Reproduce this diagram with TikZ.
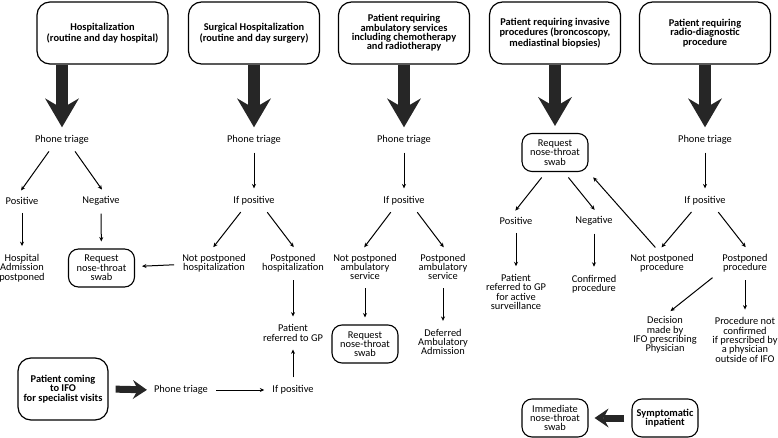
\documentclass[tikz,border=0pt]{standalone}
\usepackage{fontspec}
\setmainfont{Carlito}
\usepackage{xcolor}
\definecolor{arrowgrey}{RGB}{38, 38, 38}
\usepackage{tikz}
\usetikzlibrary{arrows.meta, positioning, calc}

\begin{document}
\begin{tikzpicture}[x=1pt, y=-1pt, >={Stealth[length=4.4pt, width=4pt]},
    txt/.style={align=center, inner sep=1pt, font=\fontsize{10.4}{9.3}\selectfont},
    topbox/.style={txt, draw, line width=1.2pt, rounded corners=13pt,
        font=\bfseries\fontsize{10.4}{9.3}\selectfont, minimum width=131pt, minimum height=62pt},
    swabbox/.style={txt, draw, line width=1.1pt, rounded corners=10pt, minimum width=66pt, minimum height=38pt},
    link/.style={->, line width=1pt, shorten <=7pt, shorten >=7pt},
    bigarrow/.style={arrowgrey, line width=12pt, shorten >=7pt,
        -{Stealth[length=29pt, width=34pt, inset=10pt, line width=0pt]}},
    midarrow/.style={arrowgrey, line width=7pt, shorten <=7pt, shorten >=6pt,
        -{Stealth[length=14pt, width=19pt, inset=5pt, line width=0pt]}}]
    \useasboundingbox (0,0) rectangle (778,438);

    % top boxes
    \node[topbox] (hosp) at (102.5,33) {Hospitalization\\(routine and day hospital)};
    \node[topbox] (surg) at (254,33) {Surgical Hospitalization\\(routine and day surgery)};
    \node[topbox] (amb) at (404,33) {Patient requiring\\ambulatory services\\including chemotherapy\\and radiotherapy};
    \node[topbox] (inv) at (555,33) {Patient requiring invasive\\procedures (broncoscopy,\\mediastinal biopsies)};
    \node[topbox] (rad) at (705,33) {Patient requiring\\radio-diagnostic\\procedure};

    % column 1
    \node[txt] (trig1) at (62,140) {Phone triage};
    \node[txt] (pos1) at (22,201) {Positive};
    \node[txt] (neg1) at (101,201) {Negative};
    \node[txt] (adm1) at (22,268) {Hospital\\Admission\\postponed};
    \node[swabbox] (swab1) at (101.5,268) {Request\\nose-throat\\swab};

    % column 2
    \node[txt] (trig2) at (254,140) {Phone triage};
    \node[txt] (ifp2) at (254,201) {If positive};
    \node[txt] (notp2) at (214,263) {Not postponed\\hospitalization};
    \node[txt] (post2) at (293,263) {Postponed\\hospitalization};
    \node[txt] (gp2) at (293,333) {Patient\\referred to GP};

    % specialist visits
    \node[topbox, minimum width=90pt, minimum height=62pt] (visit) at (63,389) {Patient coming\\to IFO\\for specialist visits};
    \node[txt] (trig6) at (181,390) {Phone triage};
    \node[txt] (ifp6) at (293,390) {If positive};

    % column 3
    \node[txt] (trig3) at (404,140) {Phone triage};
    \node[txt] (ifp3) at (404,201) {If positive};
    \node[txt] (notp3) at (365,267) {Not postponed\\ambulatory\\service};
    \node[txt] (post3) at (443,267) {Postponed\\ambulatory\\service};
    \node[swabbox] (swab3) at (365,344) {Request\\nose-throat\\swab};
    \node[txt] (def3) at (443,342) {Deferred\\Ambulatory\\Admission};

    % column 4
    \node[swabbox] (swab4) at (555,152.5) {Request\\nose-throat\\swab};
    \node[txt] (pos4) at (516,221) {Positive};
    \node[txt] (neg4) at (594,221) {Negative};
    \node[txt] (ref4) at (516,292) {Patient\\referred to GP\\for active\\surveillance};
    \node[txt] (conf4) at (594,284) {Confirmed\\procedure};

    % column 5
    \node[txt] (trig5) at (705,140) {Phone triage};
    \node[txt] (ifp5) at (705,201) {If positive};
    \node[txt] (notp5) at (662,263) {Not postponed\\procedure};
    \node[txt] (post5) at (745,263) {Postponed\\procedure};
    \node[txt] (dec5) at (665,335) {Decision\\made by\\IFO prescribing\\Physician};
    \node[txt] (notc5) at (745,340) {Procedure not\\confirmed\\if prescribed by\\a physician\\outside of IFO};

    % inpatient
    \node[swabbox, font=\bfseries\fontsize{10.4}{9.3}\selectfont] (inpat) at (665,418) {Symptomatic\\inpatient};
    \node[swabbox] (swab7) at (555,418) {Immediate\\nose-throat\\swab};

    % thick arrows
    \draw[bigarrow] (hosp.south -| trig1.north) -- (trig1.north);
    \draw[bigarrow] (surg.south -| trig2.north) -- (trig2.north);
    \draw[bigarrow] (amb.south -| trig3.north) -- (trig3.north);
    \draw[bigarrow] (inv.south) -- (swab4.north);
    \draw[bigarrow] (rad.south -| trig5.north) -- (trig5.north);
    \draw[midarrow] (visit.east) -- (trig6.west);
    \draw[midarrow] (inpat.west) -- (swab7.east);

    % column 1 links
    \draw[link] ([xshift=-9pt]trig1.south) -- ([xshift=-5pt]pos1.north);
    \draw[link] ([xshift=9pt]trig1.south) -- ([xshift=5pt]neg1.north);
    \draw[link] (pos1) -- (adm1);
    \draw[link] (neg1) -- (swab1);

    % column 2 links
    \draw[link] (trig2) -- (ifp2);
    \draw[link] ([xshift=-9pt]ifp2.south) -- ([xshift=-5pt]notp2.north);
    \draw[link] ([xshift=9pt]ifp2.south) -- ([xshift=5pt]post2.north);
    \draw[link] (notp2) -- (swab1);
    \draw[link] (post2) -- (gp2);
    \draw[link] (trig6) -- (ifp6);
    \draw[link] (ifp6) -- (gp2);

    % column 3 links
    \draw[link] (trig3) -- (ifp3);
    \draw[link] ([xshift=-9pt]ifp3.south) -- ([xshift=-5pt]notp3.north);
    \draw[link] ([xshift=9pt]ifp3.south) -- ([xshift=5pt]post3.north);
    \draw[link] (notp3) -- (swab3);
    \draw[link] (post3) -- (def3);

    % column 4 links
    \draw[link] ([xshift=-9pt]swab4.south) -- ([xshift=-5pt]pos4.north);
    \draw[link] ([xshift=9pt]swab4.south) -- ([xshift=5pt]neg4.north);
    \draw[link] (pos4) -- (ref4);
    \draw[link] (neg4) -- (conf4);

    % column 5 links
    \draw[link] (trig5) -- (ifp5);
    \draw[link] ([xshift=-9pt]ifp5.south) -- ([xshift=-5pt]notp5.north);
    \draw[link] ([xshift=9pt]ifp5.south) -- ([xshift=5pt]post5.north);
    \draw[link] ([xshift=-2pt]notp5.north) -- (swab4.south east);
    \draw[link] ([xshift=-27pt]post5.south) -- (dec5.north);
    \draw[link] (post5) -- (notc5);
\end{tikzpicture}
\end{document}
